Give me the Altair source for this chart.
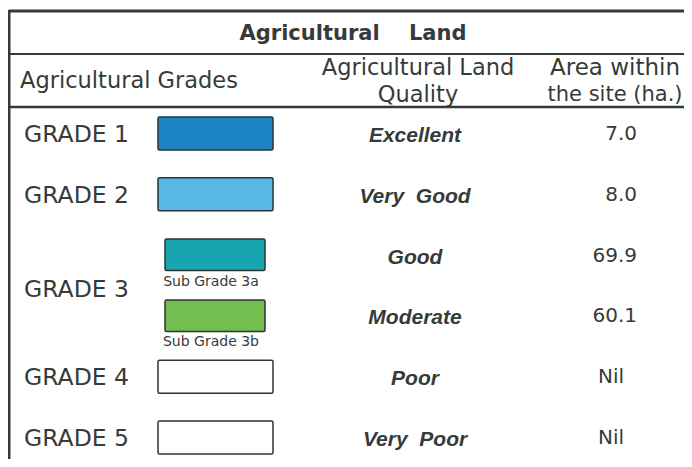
import altair as alt
import pandas as pd

# ---- table content ----
title_words = ["Agricultural", "Land"]
col_headers = [["Agricultural Grades"], ["Agricultural Land", "Quality"], ["Area within", "the site (ha.)"]]
grade_labels = ["GRADE 1", "GRADE 2", "GRADE 3", "GRADE 4", "GRADE 5"]
grade_rows = [[0], [1], [2, 3], [4], [5]]          # which sub-rows each grade spans
sub_labels = ["", "", "Sub Grade 3a", "Sub Grade 3b", "", ""]
quality = ["Excellent", "Very  Good", "Good", "Moderate", "Poor", "Very  Poor"]
area = ["7.0", "8.0", "69.9", "60.1", "Nil", "Nil"]
fills = ["#1b84c6", "#57b8e7", "#17a5af", "#72bf50", "#ffffff", "#ffffff"]

# ---- layout (page pixel units) ----
ROW0, STEP = 134, 60.8
row_y = [ROW0 + STEP * i for i in range(len(quality))]
TXT = "#363b39"
LINE = "#323a3a"
NB = "\u00a0"

X = alt.Scale(domain=[8, 684], nice=False, zero=False)
Y = alt.Scale(domain=[8, 459], reverse=True, nice=False, zero=False)

def xq(f):
    return alt.X(f"{f}:Q", scale=X, axis=None)

def yq(f):
    return alt.Y(f"{f}:Q", scale=Y, axis=None)

# lines
lines = pd.DataFrame([
    dict(x=9, x2=684, y=11, y2=11, w=3),
    dict(x=9, x2=684, y=54, y2=54, w=2),
    dict(x=9, x2=684, y=107, y2=107, w=2.5),
    dict(x=9, x2=9, y=10, y2=464, w=3),
])
rules = alt.Chart(lines).mark_rule(color=LINE).encode(
    x=xq("x"), x2="x2:Q", y=yq("y"), y2="y2:Q",
    strokeWidth=alt.StrokeWidth("w:Q", scale=None),
)

# title
title = alt.Chart(pd.DataFrame({"t": [(NB * 4).join(title_words)], "x": [353], "y": [33.5]})).mark_text(
    font="DejaVu Sans", fontWeight="bold", fontSize=21, color=TXT, align="center", baseline="middle"
).encode(x=xq("x"), y=yq("y"), text="t:N")

# headers
hdr_pos = [(20, [81], "left", [22.5]), (418, [68, 95], "center", [22.5, 22.5]),
           (615, [68, 95], "center", [23, 21])]
hrows = []
for (hx, hys, al, fss), lines_txt in zip(hdr_pos, col_headers):
    for hy, t, fs in zip(hys, lines_txt, fss):
        hrows.append(dict(x=hx, y=hy, t=t, al=al, fs=fs))
hdf = pd.DataFrame(hrows)
hdr_left = alt.Chart(hdf[hdf.al == "left"]).mark_text(
    font="DejaVu Sans", color=TXT, align="left", baseline="middle"
).encode(x=xq("x"), y=yq("y"), text="t:N", size=alt.Size("fs:Q", scale=None))
hdr_center = alt.Chart(hdf[hdf.al == "center"]).mark_text(
    font="DejaVu Sans", color=TXT, align="center", baseline="middle"
).encode(x=xq("x"), y=yq("y"), text="t:N", size=alt.Size("fs:Q", scale=None))

# grade labels
gdf = pd.DataFrame({
    "t": grade_labels,
    "x": [24] * len(grade_labels),
    "y": [sum(row_y[r] for r in rs) / len(rs) + (4 if len(rs) > 1 else 1) for rs in grade_rows],
})
grades = alt.Chart(gdf).mark_text(
    font="DejaVu Sans", fontSize=23.5, color=TXT, align="left", baseline="middle"
).encode(x=xq("x"), y=yq("y"), text="t:N")

# colour boxes
brows = []
for i, (yc, s, f) in enumerate(zip(row_y, sub_labels, fills)):
    if s:
        brows.append(dict(x=165, x2=265, y=yc - 16.5, y2=yc + 15, fill=f))
    else:
        brows.append(dict(x=158, x2=273, y=yc - 17, y2=yc + 16, fill=f))
bdf = pd.DataFrame(brows)
boxes = alt.Chart(bdf).mark_rect(stroke="#2b3535", strokeWidth=1.5, cornerRadius=1.5).encode(
    x=xq("x"), x2="x2:Q", y=yq("y"), y2="y2:Q", fill=alt.Fill("fill:N", scale=None)
)

# sub grade labels
sdf = pd.DataFrame([dict(t=s, x=211, y=yc + 26) for yc, s in zip(row_y, sub_labels) if s])
subs = alt.Chart(sdf).mark_text(
    font="DejaVu Sans", fontSize=14, color=TXT, align="center", baseline="middle"
).encode(x=xq("x"), y=yq("y"), text="t:N")

# quality
qdf = pd.DataFrame({"t": [q.replace("  ", NB + " ") for q in quality],
                    "x": [415] * len(quality), "y": [y + 2 for y in row_y]})
qual = alt.Chart(qdf).mark_text(
    font="Liberation Sans", fontWeight="bold", fontStyle="italic", fontSize=21,
    color=TXT, align="center", baseline="middle"
).encode(x=xq("x"), y=yq("y"), text="t:N")

# area values
adf = pd.DataFrame({"t": area, "y": row_y, "nil": [a == "Nil" for a in area]})
area_num = alt.Chart(adf).transform_filter("!datum.nil").transform_calculate(x="637").mark_text(
    font="DejaVu Sans", fontSize=20, color=TXT, align="right", baseline="middle"
).encode(x=xq("x"), y=yq("y"), text="t:N")
area_nil = alt.Chart(adf).transform_filter("datum.nil").transform_calculate(x="611").mark_text(
    font="DejaVu Sans", fontSize=20, color=TXT, align="center", baseline="middle"
).encode(x=xq("x"), y=yq("y"), text="t:N")

chart = alt.layer(
    rules, title, hdr_left, hdr_center, grades, boxes, subs, qual, area_num, area_nil
).properties(
    width=676, height=451, padding=0, autosize=alt.AutoSizeParams(type="none"),
    background="white",
).configure_view(stroke=None)

chart.save("out.html", embed_options={"renderer": "svg", "actions": False})
